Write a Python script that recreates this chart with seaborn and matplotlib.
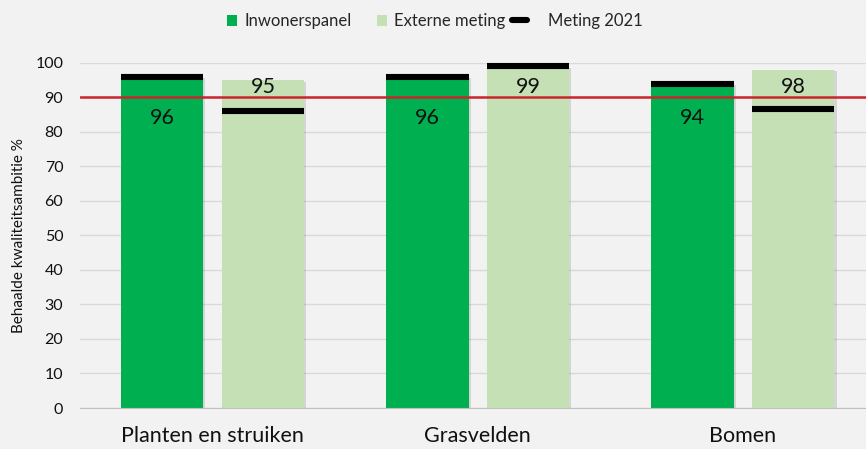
import matplotlib
matplotlib.use("Agg")
import matplotlib.pyplot as plt
import matplotlib.patheffects as pe
import seaborn as sns
import pandas as pd
from matplotlib.lines import Line2D
from matplotlib.patches import Patch
from matplotlib.legend_handler import HandlerBase

# Data
categories = ["Planten en struiken", "Grasvelden", "Bomen"]
inwonerspanel = [96, 96, 94]
externe_meting = [95, 99, 98]
meting_2021_inwoners = [96, 96, 94]
meting_2021_extern = [86, 99, 86.5]
ambitie = 90

series = ["Inwonerspanel", "Externe meting"]
colors = {"Inwonerspanel": "#00b050", "Externe meting": "#c5e0b4"}

df = pd.DataFrame({
    "categorie": categories * 2,
    "reeks": [series[0]] * 3 + [series[1]] * 3,
    "waarde": inwonerspanel + externe_meting,
})


# legend line for "Meting 2021" sits left of its handle box, like the original
class ShiftedLine(HandlerBase):
    def create_artists(self, legend, orig_handle, xdescent, ydescent,
                       width, height, fontsize, trans):
        y = height / 2 - ydescent
        line = Line2D([-xdescent - 1.8 * width, -xdescent - 0.35 * width], [y, y],
                      color="black", linewidth=4.4, transform=trans)
        return [line]


sns.set_style("white")
plt.rcParams["font.family"] = ["Lato", "DejaVu Sans"]

bg = "#f2f2f2"
fig = plt.figure(figsize=(8.66, 4.49), dpi=100, facecolor=bg)
ax = fig.add_axes([0.0924, 0.0913, 0.9186, 0.7687])
ax.set_facecolor(bg)

sns.barplot(data=df, x="categorie", y="waarde", hue="reeks", order=categories,
            hue_order=series, palette=colors, width=0.76, gap=0.184,
            saturation=1, linewidth=0, legend=False, ax=ax, zorder=2)

# bars are in hue order: first the 3 inwoners bars, then the 3 extern bars
bars = ax.patches
label_y = {"Inwonerspanel": 84, "Externe meting": 93}
markers = meting_2021_inwoners + meting_2021_extern
for i, bar in enumerate(bars):
    bar.set_path_effects([pe.SimplePatchShadow(offset=(1.5, -1), alpha=0.18,
                                               shadow_rgbFace="#555555"),
                          pe.Normal()])
    reeks = series[i // 3]
    x0 = bar.get_x()
    w = bar.get_width()
    ax.hlines(markers[i], x0, x0 + w, color="black", linewidth=4.4,
              zorder=4, clip_on=False)
    ax.text(x0 + w / 2, label_y[reeks], f"{bar.get_height():.0f}",
            ha="center", va="center", fontsize=15.5, color="#111111", zorder=5)

ax.axhline(ambitie, color="#c8262c", linewidth=1.8, zorder=3)

ax.set_ylim(0, 100)
ax.set_xlim(-0.5, 2.5)
ax.set_yticks(range(0, 101, 10))
ax.grid(axis="y", color="#d9d9d9", linewidth=1, zorder=0)
ax.set_axisbelow(True)
for s in ["top", "right", "left"]:
    ax.spines[s].set_visible(False)
ax.spines["bottom"].set_color("#bfbfbf")
ax.tick_params(axis="y", labelsize=11.5, pad=12, length=0, colors="#111111")
ax.tick_params(axis="x", labelsize=15.5, pad=13, length=0, colors="#111111")
ax.set_xlabel("")
ax.set_ylabel("Behaalde kwaliteitsambitie %", fontsize=11, color="#111111", labelpad=7)

handles = [
    Patch(facecolor=colors["Inwonerspanel"], edgecolor="none"),
    Patch(facecolor=colors["Externe meting"], edgecolor="none"),
    Line2D([], [], color="black", linewidth=4.4),
]
fig.legend(handles, ["Inwonerspanel", "Externe meting", "Meting 2021"],
           handler_map={handles[2]: ShiftedLine()},
           loc="center", bbox_to_anchor=(0.502, 0.953), ncol=3, frameon=False,
           fontsize=12, handlelength=0.6, handleheight=0.6,
           handletextpad=0.45, columnspacing=1.5)

fig.savefig("out.png", dpi=100, facecolor=bg)
